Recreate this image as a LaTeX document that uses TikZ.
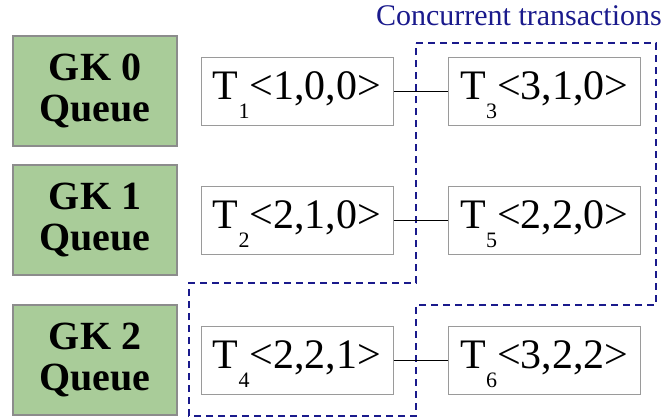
\documentclass[tikz,border=0pt]{standalone}
\usepackage{fontspec}
\setmainfont{Liberation Serif}
\definecolor{gkgreen}{HTML}{A9CC99}
\definecolor{gkborder}{HTML}{8C8C8C}
\definecolor{txborder}{HTML}{9A9A9A}
\definecolor{navyd}{HTML}{1A1A8C}
\newcommand{\tsub}[1]{\smash{\raisebox{-19pt}{\fontsize{22}{22}\selectfont #1}}}
\begin{document}
\begin{tikzpicture}[x=1pt,y=-1pt,
  gk/.style={draw=gkborder, fill=gkgreen, line width=1.2pt, minimum width=164pt, minimum height=110pt, inner sep=0pt, align=center, font=\fontsize{40}{41}\selectfont\bfseries},
  tx/.style={draw=txborder, fill=white, line width=1pt, minimum width=192pt, minimum height=68pt, inner sep=0pt, text height=28pt, text depth=12pt, font=\fontsize{42}{42}\selectfont},
  conn/.style={draw=black, line width=0.9pt},
  conc/.style={draw=navyd, line width=2.4pt, dash pattern=on 7pt off 5pt}]
\useasboundingbox (0,0) rectangle (665,418);
\node[gk] (gk0) at (95,91) {GK 0\\Queue};
\node[gk] (gk1) at (95,220) {GK 1\\Queue};
\node[gk] (gk2) at (95,360) {GK 2\\Queue};
\draw[conc] (416,43) -- (656,43) -- (656,305) -- (416,305) -- (416,416) -- (189,416) -- (189,283) -- (416,283) -- cycle;
\node[tx] (t1) at (297,91) {T\tsub{1}<1,0,0>};
\node[tx] (t3) at (544.5,91) {T\tsub{3}<3,1,0>};
\node[tx] (t2) at (297,220) {T\tsub{2}<2,1,0>};
\node[tx] (t5) at (544.5,220) {T\tsub{5}<2,2,0>};
\node[tx] (t4) at (297,360) {T\tsub{4}<2,2,1>};
\node[tx] (t6) at (544.5,360) {T\tsub{6}<3,2,2>};
\draw[conn] (t1) -- (t3);
\draw[conn] (t2) -- (t5);
\draw[conn] (t4) -- (t6);
\node[anchor=base east, text=navyd, font=\fontsize{30}{30}\selectfont, inner sep=0pt] (title) at (662,25) {Concurrent transactions};
\end{tikzpicture}
\end{document}
